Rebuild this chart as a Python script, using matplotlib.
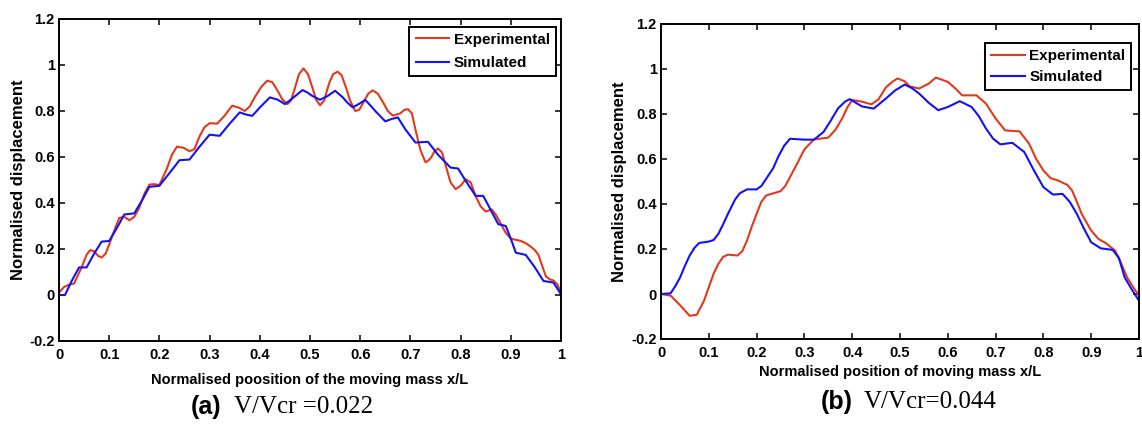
import matplotlib
matplotlib.use("Agg")
import matplotlib.pyplot as plt

# --- Daten ---
xa_exp = [0.0, 0.01, 0.02, 0.03, 0.045, 0.055, 0.062, 0.07, 0.078, 0.085, 0.093, 0.1, 0.11,
          0.12, 0.13, 0.14, 0.15, 0.16, 0.17, 0.18, 0.19, 0.2, 0.215, 0.225, 0.235, 0.248,
          0.26, 0.27, 0.28, 0.29, 0.3, 0.315, 0.33, 0.345, 0.358, 0.37, 0.38, 0.39, 0.403,
          0.415, 0.425, 0.435, 0.445, 0.455, 0.462, 0.47, 0.478, 0.487, 0.496, 0.505, 0.512,
          0.52, 0.528, 0.538, 0.546, 0.555, 0.563, 0.572, 0.58, 0.59, 0.598, 0.607, 0.616,
          0.625, 0.635, 0.645, 0.655, 0.665, 0.673, 0.68, 0.688, 0.695, 0.703, 0.71, 0.72,
          0.73, 0.736, 0.742, 0.748, 0.755, 0.763, 0.772, 0.78, 0.79, 0.8, 0.81, 0.82, 0.83,
          0.84, 0.85, 0.862, 0.87, 0.88, 0.89, 0.9, 0.91, 0.92, 0.93, 0.94, 0.948, 0.955,
          0.962, 0.97, 0.978, 0.985, 0.993, 1.0]
ya_exp = [0.01, 0.035, 0.045, 0.05, 0.12, 0.175, 0.195, 0.19, 0.17, 0.163, 0.18, 0.22, 0.28,
          0.335, 0.34, 0.325, 0.34, 0.38, 0.44, 0.48, 0.482, 0.478, 0.55, 0.61, 0.645, 0.64,
          0.625, 0.635, 0.69, 0.73, 0.747, 0.745, 0.78, 0.823, 0.815, 0.80, 0.82, 0.86, 0.905,
          0.932, 0.925, 0.89, 0.85, 0.83, 0.845, 0.9, 0.96, 0.985, 0.96, 0.9, 0.85, 0.825,
          0.845, 0.92, 0.96, 0.971, 0.955, 0.9, 0.845, 0.80, 0.805, 0.84, 0.875, 0.89, 0.875,
          0.84, 0.80, 0.78, 0.785, 0.79, 0.805, 0.808, 0.79, 0.72, 0.63, 0.577, 0.585, 0.60,
          0.625, 0.637, 0.62, 0.55, 0.49, 0.46, 0.475, 0.503, 0.49, 0.43, 0.385, 0.363, 0.372,
          0.35, 0.31, 0.27, 0.245, 0.24, 0.235, 0.225, 0.21, 0.195, 0.175, 0.13, 0.08, 0.068,
          0.063, 0.045, 0.01]

xa_sim = [0.0, 0.012, 0.025, 0.04, 0.055, 0.07, 0.085, 0.1, 0.115, 0.13, 0.15, 0.165, 0.18, 0.2,
          0.22, 0.24, 0.26, 0.28, 0.3, 0.32, 0.34, 0.36, 0.372, 0.385, 0.4, 0.42, 0.435, 0.45,
          0.465, 0.485, 0.495, 0.505, 0.52, 0.535, 0.55, 0.565, 0.575, 0.585, 0.597, 0.61,
          0.62, 0.63, 0.65, 0.662, 0.675, 0.69, 0.71, 0.735, 0.755, 0.78, 0.795, 0.812, 0.83,
          0.845, 0.86, 0.875, 0.89, 0.9, 0.91, 0.93, 0.948, 0.965, 0.985, 1.0]
ya_sim = [0.0, 0.0, 0.06, 0.12, 0.12, 0.18, 0.232, 0.235, 0.29, 0.35, 0.355, 0.41, 0.47, 0.475,
          0.53, 0.586, 0.589, 0.645, 0.697, 0.692, 0.745, 0.794, 0.785, 0.779, 0.815, 0.859,
          0.85, 0.83, 0.855, 0.891, 0.88, 0.865, 0.849, 0.865, 0.888, 0.86, 0.835, 0.816, 0.83,
          0.848, 0.825, 0.80, 0.755, 0.765, 0.772, 0.72, 0.663, 0.666, 0.61, 0.554, 0.55, 0.49,
          0.431, 0.431, 0.37, 0.308, 0.30, 0.245, 0.184, 0.174, 0.12, 0.061, 0.054, 0.003]

xb_exp = [0.0, 0.02, 0.04, 0.06, 0.075, 0.09, 0.1, 0.11, 0.12, 0.13, 0.14, 0.16, 0.17, 0.18,
          0.19, 0.2, 0.21, 0.22, 0.25, 0.26, 0.27, 0.285, 0.3, 0.32, 0.35, 0.365, 0.38, 0.39,
          0.4, 0.42, 0.44, 0.455, 0.47, 0.485, 0.495, 0.51, 0.52, 0.54, 0.56, 0.575, 0.6,
          0.615, 0.63, 0.66, 0.68, 0.7, 0.72, 0.75, 0.77, 0.785, 0.8, 0.815, 0.83, 0.85, 0.86,
          0.87, 0.88, 0.9, 0.915, 0.93, 0.95, 0.962, 0.975, 0.988, 1.0]
yb_exp = [0.0, -0.007, -0.05, -0.097, -0.092, -0.03, 0.03, 0.09, 0.134, 0.165, 0.175, 0.171,
          0.19, 0.238, 0.3, 0.356, 0.41, 0.438, 0.457, 0.48, 0.52, 0.58, 0.643, 0.687, 0.695,
          0.73, 0.784, 0.83, 0.862, 0.855, 0.843, 0.865, 0.917, 0.945, 0.958, 0.945, 0.923,
          0.913, 0.935, 0.962, 0.943, 0.915, 0.883, 0.883, 0.846, 0.78, 0.727, 0.723, 0.668,
          0.6, 0.549, 0.515, 0.505, 0.485, 0.46, 0.41, 0.356, 0.282, 0.245, 0.227, 0.193, 0.14,
          0.074, 0.03, -0.007]

xb_sim = [0.0, 0.02, 0.03, 0.04, 0.05, 0.06, 0.07, 0.08, 0.1, 0.11, 0.12, 0.13, 0.14, 0.155,
          0.165, 0.18, 0.2, 0.21, 0.22, 0.235, 0.245, 0.258, 0.27, 0.3, 0.32, 0.34, 0.355,
          0.37, 0.385, 0.395, 0.42, 0.445, 0.47, 0.49, 0.51, 0.525, 0.54, 0.56, 0.58, 0.6,
          0.625, 0.65, 0.665, 0.68, 0.695, 0.71, 0.735, 0.76, 0.78, 0.8, 0.82, 0.84, 0.855,
          0.87, 0.885, 0.9, 0.92, 0.945, 0.958, 0.97, 0.985, 1.0]
yb_sim = [0.0, 0.003, 0.035, 0.074, 0.125, 0.171, 0.205, 0.227, 0.233, 0.24, 0.267, 0.31,
          0.356, 0.42, 0.448, 0.465, 0.465, 0.48, 0.512, 0.56, 0.609, 0.66, 0.69, 0.686,
          0.686, 0.72, 0.77, 0.824, 0.855, 0.866, 0.834, 0.824, 0.868, 0.905, 0.931, 0.915,
          0.891, 0.85, 0.817, 0.831, 0.857, 0.831, 0.79, 0.735, 0.69, 0.665, 0.672, 0.631,
          0.55, 0.475, 0.442, 0.445, 0.41, 0.356, 0.29, 0.23, 0.203, 0.196, 0.16, 0.074, 0.02,
          -0.03]

xticks = [0, 0.1, 0.2, 0.3, 0.4, 0.5, 0.6, 0.7, 0.8, 0.9, 1]
xticklabels = ["0", "0.1", "0.2", "0.3", "0.4", "0.5", "0.6", "0.7", "0.8", "0.9", "1"]
yticks = [-0.2, 0, 0.2, 0.4, 0.6, 0.8, 1, 1.2]
yticklabels = ["-0.2", "0", "0.2", "0.4", "0.6", "0.8", "1", "1.2"]

RED = "#E2391B"
BLUE = "#1212F5"
SANS = "Liberation Sans"
SERIF = "Liberation Serif"


def style_axes(ax):
    ax.set_xlim(0, 1)
    ax.set_ylim(-0.2, 1.2)
    ax.set_xticks(xticks)
    ax.set_xticklabels(xticklabels)
    ax.set_yticks(yticks)
    ax.set_yticklabels(yticklabels)
    ax.tick_params(direction="in", length=4, width=1.1, top=True, right=True,
                   labelsize=10.5)
    ax.tick_params(axis="x", pad=5)
    ax.tick_params(axis="y", pad=3)
    for lab in ax.get_xticklabels() + ax.get_yticklabels():
        lab.set_fontweight("bold")
        lab.set_family(SANS)
    for sp in ax.spines.values():
        sp.set_linewidth(1.4)


def draw_panel(ax, x1, y1, x2, y2, xlabel, legend_anchor, xlab_y, ylab_x, legend_gap):
    ax.plot(x1, y1, color=RED, lw=1.5, label="Experimental")
    ax.plot(x2, y2, color=BLUE, lw=1.5, label="Simulated")
    style_axes(ax)
    ax.set_xlabel(xlabel, fontsize=10.5, fontweight="bold", family=SANS)
    ax.set_ylabel("Normalised displacement", fontsize=12, fontweight="bold", family=SANS)
    ax.xaxis.set_label_coords(0.5, xlab_y)
    ax.yaxis.set_label_coords(ylab_x, 0.5)
    leg = ax.legend(loc="upper right", bbox_to_anchor=legend_anchor, borderaxespad=0,
                    fancybox=False, edgecolor="black", framealpha=1,
                    prop={"family": SANS, "weight": "bold", "size": 11},
                    handlelength=2.2, handletextpad=0.3, borderpad=0.4,
                    labelspacing=legend_gap)
    leg.get_frame().set_linewidth(1.4)


fig = plt.figure(figsize=(11.42, 4.25), dpi=100)
ax1 = fig.add_axes([59 / 1142, 1 - 341 / 425, 502 / 1142, 322 / 425])
ax2 = fig.add_axes([661 / 1142, 1 - 339 / 425, 478 / 1142, 315 / 425])

draw_panel(ax1, xa_exp, ya_exp, xa_sim, ya_sim,
           "Normalised poosition of the moving mass x/L", (0.99, 0.976), -0.1, -0.066, 0.6)
draw_panel(ax2, xb_exp, yb_exp, xb_sim, yb_sim,
           "Normalised position of moving mass x/L", (0.984, 0.939), -0.082, -0.071, 0.45)

# Unterschriften (a) / (b)
fig.text(221 / 1142, 1 - 407 / 425, "(a)", ha="right", va="center",
         fontsize=18, fontweight="bold", family=SANS)
fig.text(234 / 1142, 1 - 407 / 425, "V/Vcr =0.022", ha="left", va="center",
         fontsize=18, family=SERIF)
fig.text(853 / 1142, 1 - 402 / 425, "(b)", ha="right", va="center",
         fontsize=18, fontweight="bold", family=SANS)
fig.text(864 / 1142, 1 - 402 / 425, "V/Vcr=0.044", ha="left", va="center",
         fontsize=18, family=SERIF)

fig.savefig("out.png", dpi=100)
